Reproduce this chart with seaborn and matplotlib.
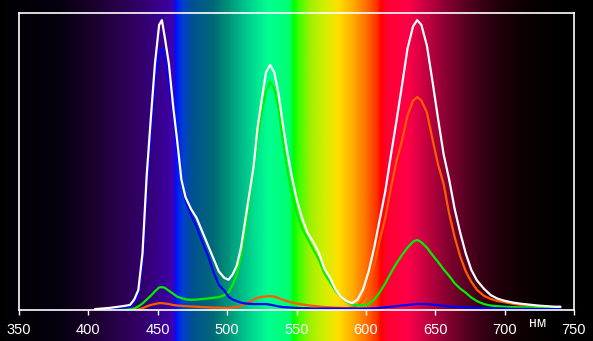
import numpy as np
import pandas as pd
import matplotlib
matplotlib.use("Agg")
import matplotlib.pyplot as plt
import seaborn as sns

# ===== DATA =====
wavelength = [
    405, 410, 415, 420, 425, 430, 433, 436, 439, 442, 445, 448, 451, 453, 455, 458,
    461, 464, 467, 470, 474, 478, 482, 486, 490, 494, 498, 501, 504, 507, 510, 513,
    516, 519, 522, 525, 528, 531, 534, 537, 540, 543, 546, 550, 554, 558, 562, 566,
    570, 574, 578, 582, 586, 590, 594, 598, 602, 606, 610, 614, 618, 622, 626, 630,
    634, 637, 640, 644, 648, 652, 656, 660, 664, 668, 672, 676, 680, 685, 690, 695,
    700, 706, 712, 718, 724, 730, 736, 740,
]

white = [
    0.003, 0.005, 0.007, 0.010, 0.013, 0.017, 0.035, 0.067, 0.190, 0.450, 0.645, 0.830, 0.960, 0.976, 0.920, 0.830,
    0.690, 0.570, 0.440, 0.380, 0.340, 0.310, 0.265, 0.220, 0.175, 0.130, 0.108, 0.102, 0.120, 0.150, 0.210, 0.300,
    0.390, 0.480, 0.615, 0.710, 0.800, 0.825, 0.800, 0.730, 0.630, 0.540, 0.465, 0.375, 0.310, 0.260, 0.230, 0.195,
    0.140, 0.110, 0.070, 0.045, 0.030, 0.023, 0.035, 0.070, 0.130, 0.210, 0.305, 0.400, 0.520, 0.635, 0.755, 0.880,
    0.955, 0.976, 0.960, 0.890, 0.770, 0.645, 0.525, 0.440, 0.340, 0.260, 0.190, 0.135, 0.100, 0.072, 0.050, 0.038,
    0.031, 0.025, 0.021, 0.018, 0.015, 0.013, 0.011, 0.011,
]

blue = [
    0.000, 0.001, 0.003, 0.005, 0.008, 0.010, 0.025, 0.050, 0.160, 0.400, 0.590, 0.760, 0.870, 0.880, 0.840, 0.770,
    0.670, 0.540, 0.440, 0.370, 0.320, 0.280, 0.230, 0.185, 0.130, 0.085, 0.065, 0.045, 0.035, 0.030, 0.025, 0.022,
    0.021, 0.020, 0.020, 0.020, 0.020, 0.018, 0.015, 0.012, 0.010, 0.009, 0.008, 0.007, 0.006, 0.006, 0.005, 0.005,
    0.005, 0.005, 0.005, 0.005, 0.005, 0.005, 0.005, 0.005, 0.005, 0.006, 0.007, 0.009, 0.011, 0.013, 0.015, 0.017,
    0.019, 0.020, 0.020, 0.020, 0.018, 0.016, 0.014, 0.012, 0.011, 0.010, 0.009, 0.008, 0.007, 0.006, 0.006, 0.005,
    0.005, 0.004, 0.004, 0.004, 0.003, 0.003, 0.003, 0.003,
]

green = [
    0.000, 0.000, 0.000, 0.000, 0.001, 0.003, 0.005, 0.012, 0.022, 0.035, 0.048, 0.063, 0.076, 0.077, 0.075, 0.065,
    0.055, 0.045, 0.040, 0.036, 0.034, 0.035, 0.037, 0.039, 0.041, 0.043, 0.050, 0.060, 0.085, 0.120, 0.180, 0.270,
    0.370, 0.470, 0.580, 0.670, 0.735, 0.768, 0.745, 0.680, 0.575, 0.480, 0.405, 0.330, 0.275, 0.240, 0.205, 0.170,
    0.125, 0.095, 0.065, 0.045, 0.028, 0.018, 0.016, 0.016, 0.020, 0.035, 0.060, 0.090, 0.125, 0.157, 0.185, 0.210,
    0.230, 0.236, 0.228, 0.210, 0.185, 0.162, 0.137, 0.115, 0.090, 0.072, 0.058, 0.042, 0.030, 0.020, 0.015, 0.013,
    0.011, 0.010, 0.009, 0.009, 0.008, 0.008, 0.008, 0.008,
]

red = [
    0.000, 0.000, 0.000, 0.000, 0.000, 0.000, 0.000, 0.002, 0.006, 0.012, 0.017, 0.020, 0.023, 0.023, 0.022, 0.020,
    0.017, 0.015, 0.014, 0.013, 0.012, 0.011, 0.010, 0.009, 0.008, 0.008, 0.007, 0.007, 0.008, 0.010, 0.014, 0.020,
    0.027, 0.035, 0.041, 0.044, 0.046, 0.047, 0.045, 0.040, 0.035, 0.030, 0.026, 0.022, 0.019, 0.016, 0.014, 0.012,
    0.010, 0.009, 0.008, 0.007, 0.006, 0.008, 0.015, 0.035, 0.080, 0.150, 0.235, 0.310, 0.410, 0.500, 0.570, 0.655,
    0.705, 0.717, 0.705, 0.665, 0.575, 0.490, 0.425, 0.325, 0.245, 0.180, 0.130, 0.095, 0.068, 0.048, 0.037, 0.030,
    0.026, 0.021, 0.017, 0.014, 0.012, 0.011, 0.010, 0.010,
]

x_ticks = [350, 400, 450, 500, 550, 600, 650, 700, 750]
unit_label = "нм"

# ===== STYLE =====
line_colors = {"red": "#ff5a00", "green": "#00f000", "blue": "#0000ff", "white": "#ffffff"}
draw_order = ["red", "green", "blue", "white"]

# spectrum background colour stops (nm, colour)
spectrum_stops = [
    (330, "#000000"), (380, "#06000f"), (400, "#180028"), (420, "#280048"),
    (440, "#33006e"), (455, "#3a0098"), (461, "#4000b0"), (463, "#0010ff"),
    (468, "#0040d0"), (475, "#005090"), (490, "#006a78"), (500, "#00907a"),
    (510, "#00b888"), (520, "#00e090"), (530, "#00ff90"), (545, "#00ff70"),
    (548, "#00ff00"), (552, "#40ff00"), (560, "#a0f000"), (570, "#d0f000"),
    (580, "#ffe000"), (590, "#ffb000"), (600, "#ff7000"), (608, "#ff3000"),
    (611, "#ff0000"), (615, "#ff0030"), (630, "#ff0048"), (645, "#c00040"),
    (660, "#800030"), (680, "#400018"), (700, "#1a0008"), (720, "#080002"),
    (740, "#000000"), (780, "#000000"),
]

plt.rcParams["font.family"] = ["Liberation Sans", "DejaVu Sans"]

W, H = 593, 341
fig = plt.figure(figsize=(W / 100, H / 100), dpi=100)
fig.patch.set_facecolor("black")

# plot area in pixels
ax_left, ax_right, ax_top, ax_bottom = 19, 574, 13, 310
px_per_nm = (ax_right - ax_left) / 400.0
nm_at_fig_left = 350 - ax_left / px_per_nm
nm_at_fig_right = 350 + (W - ax_left) / px_per_nm

# ===== BACKGROUND SPECTRUM =====
bg = fig.add_axes([0, 0, 1, 1], zorder=0)
grid_nm = np.linspace(nm_at_fig_left, nm_at_fig_right, 1200)
stop_nm = [s[0] for s in spectrum_stops]
stop_rgb = np.array([matplotlib.colors.to_rgb(s[1]) for s in spectrum_stops])
rgb_row = np.stack([np.interp(grid_nm, stop_nm, stop_rgb[:, k]) for k in range(3)], axis=-1)
bg.imshow(rgb_row[np.newaxis, :, :], aspect="auto",
          extent=[nm_at_fig_left, nm_at_fig_right, 0, 1], interpolation="bilinear")
bg.set_xlim(nm_at_fig_left, nm_at_fig_right)
bg.set_ylim(0, 1)
bg.axis("off")

# ===== MAIN AXES =====
ax = fig.add_axes([ax_left / W, (H - ax_bottom) / H,
                   (ax_right - ax_left) / W, (ax_bottom - ax_top) / H], zorder=1)
ax.patch.set_alpha(0)

df = pd.DataFrame({"wavelength": wavelength, "white": white, "blue": blue,
                   "green": green, "red": red})
long_df = df.melt(id_vars="wavelength", var_name="channel", value_name="intensity")

sns.lineplot(data=long_df, x="wavelength", y="intensity", hue="channel",
             hue_order=draw_order, palette=line_colors, estimator=None,
             linewidth=1.6, legend=False, ax=ax)

ax.set_xlim(350, 750)
ax.set_ylim(0, 1)
ax.set_xlabel("")
ax.set_ylabel("")
ax.set_yticks([])
ax.set_xticks(x_ticks)
ax.set_xticklabels([str(t) for t in x_ticks], color="white", fontsize=10.5)
ax.tick_params(axis="x", colors="white", direction="out", length=3.6, width=1.0, pad=6)

for spine in ax.spines.values():
    spine.set_color("white")
    spine.set_linewidth(1.2)

fig.text(538 / W, 1 - 323 / H, unit_label, color="white", fontsize=10,
         ha="center", va="center")

fig.savefig("out.png", dpi=100, facecolor="black")
